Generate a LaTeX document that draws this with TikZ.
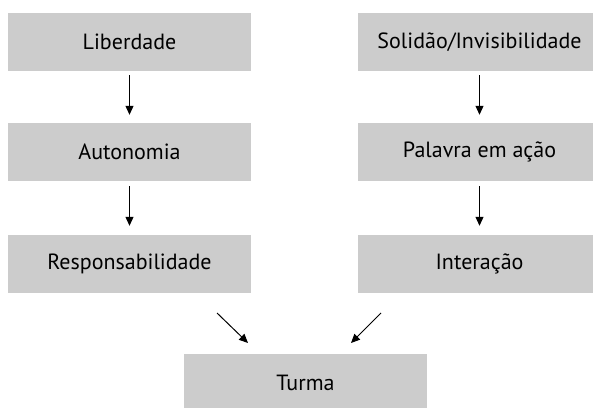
\documentclass[tikz,border=0pt]{standalone}
\usepackage{fontspec}
\setmainfont{PT Sans}
\usetikzlibrary{arrows.meta}
\definecolor{boxgray}{HTML}{CCCCCC}
\tikzset{
  box/.style={fill=boxgray, draw=none, minimum width=243pt, minimum height=58pt, inner sep=0pt, font=\fontsize{22}{26}\selectfont},
  conn/.style={-{Triangle[length=9pt,width=8pt]}, line width=1pt, black}
}
\begin{document}
\begin{tikzpicture}[x=1pt,y=1pt]
\useasboundingbox (0,0) rectangle (593,407);
\clip (0,0) rectangle (593,407);
\node[box] (lib) at (129.5,365) {Liberdade};
\node[box] (aut) at (129.5,255) {Autonomia};
\node[box] (res) at (129.5,143) {Responsabilidade};
\node[box] (sol) at (479.5,365) {Solidão/Invisibilidade};
\node[box] (pal) at (479.5,255) {Palavra em ação};
\node[box] (int) at (479.5,143) {Interação};
\node[box] (tur) at (305.5,24) {Turma};
\draw[conn, shorten <=4pt, shorten >=8pt] (lib) -- (aut);
\draw[conn, shorten <=5pt, shorten >=9pt] (aut) -- (res);
\draw[conn, shorten <=4pt, shorten >=8pt] (sol) -- (pal);
\draw[conn, shorten <=5pt, shorten >=9pt] (pal) -- (int);
\coordinate (d1s) at (217,94);
\coordinate (d1e) at (248,64);
\coordinate (d2s) at (381,94);
\coordinate (d2e) at (351,64);
\draw[conn] (d1s) -- (d1e);
\draw[conn] (d2s) -- (d2e);
\end{tikzpicture}
\end{document}
